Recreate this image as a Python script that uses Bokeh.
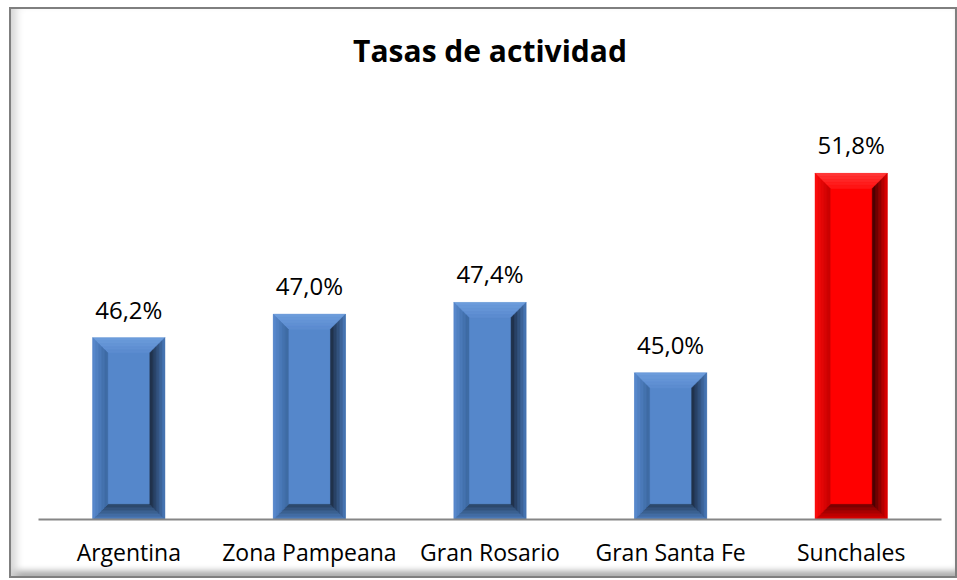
import numpy as np
from bokeh.plotting import figure
from bokeh.models import ColumnDataSource, LabelSet, Range1d, FixedTicker
from bokeh.core.properties import value
from bokeh.embed import file_html
from bokeh.resources import INLINE

# ---------------- data ----------------
categories = ["Argentina", "Zona Pampeana", "Gran Rosario", "Gran Santa Fe", "Sunchales"]
tasas = [46.2, 47.0, 47.4, 45.0, 51.8]
value_labels = ["46,2%", "47,0%", "47,4%", "45,0%", "51,8%"]
highlight = [False, False, False, False, True]
title_text = "Tasas de actividad"

Y_MIN, Y_MAX = 40.0, 55.0
FONT = "Open Sans"

# ---------------- layout ----------------
W, H = 948, 571          # outer size incl. 2px border
BORDER = 2
IW, IH = W - 2 * BORDER, H - 2 * BORDER
ML, MR, MT, MB = 27, 18, 70, 61
frame_w = IW - ML - MR
frame_h = IH - MT - MB
n = len(categories)
px_x = frame_w / n            # pixels per category unit
px_y = frame_h / (Y_MAX - Y_MIN)

p = figure(width=W, height=H, output_backend="svg", toolbar_location=None,
           x_range=Range1d(0, n), y_range=Range1d(Y_MIN, Y_MAX),
           min_border_left=ML, min_border_right=MR, min_border_top=MT,
           min_border_bottom=MB, tools="")
p.styles = {"border": "%dpx solid #7f7f7f" % BORDER,
            "margin-left": "9px", "margin-top": "7px",
            "box-shadow": "inset 10px 0 8px -5px #d4d4d4, inset 0 -9px 6px -4px #a8a8a8"}
p.border_fill_alpha = 0
p.background_fill_color = "white"
p.outline_line_color = None
p.grid.visible = False
p.yaxis.visible = False

p.title.text = title_text
p.title.align = "center"
p.title.text_font = FONT
p.title.text_font_size = "30px"
p.title.text_font_style = "bold"
p.title.text_color = "black"
p.title.standoff = 18

xs = np.arange(n) + 0.5
ax = p.xaxis[0]
ax.ticker = FixedTicker(ticks=list(xs))
ax.major_label_overrides = {float(x): c for x, c in zip(xs, categories)}
ax.axis_line_color = "#868686"
ax.axis_line_width = 2
ax.major_tick_line_color = None
ax.minor_tick_line_color = None
ax.major_label_text_font = FONT
ax.major_label_text_font_size = "23px"
ax.major_label_text_color = "black"
ax.major_label_standoff = 10

# ---------------- bars with bevel ----------------
BAR_W = 0.4
BEVEL_PX = 15
NB = 5
dx = BEVEL_PX / px_x
dy = BEVEL_PX / px_y

palettes = {
    False: dict(face="#5587cb",
                top=("#6e9edc", "#5a8acf"),
                left=("#5a8bd0", "#3b679f"),
                right=("#4a7bbd", "#1b2a40"),
                bottom=("#4c7dbe", "#2a4363")),
    True: dict(face="#ff0000",
               top=("#ff3a3a", "#ff1010"),
               left=("#ff0d0d", "#c40000"),
               right=("#e80000", "#3c0000"),
               bottom=("#e00000", "#700000")),
}


def mix(c0, c1, t):
    a = [int(c0[i:i + 2], 16) for i in (1, 3, 5)]
    b = [int(c1[i:i + 2], 16) for i in (1, 3, 5)]
    return "#%02x%02x%02x" % tuple(round(a[k] + (b[k] - a[k]) * t) for k in range(3))


faces = [palettes[h]["face"] for h in highlight]
src = ColumnDataSource(dict(x=xs, top=tasas, color=faces, lab=value_labels))
p.vbar(x="x", top="top", bottom=Y_MIN, width=BAR_W, fill_color="color",
       line_color=None, source=src)

pxs, pys, pcs = [], [], []
for x, v, h in zip(xs, tasas, highlight):
    pal = palettes[h]
    x0, x1 = x - BAR_W / 2, x + BAR_W / 2
    y0, y1 = Y_MIN, v
    for i in range(NB):
        a, b = i / NB, (i + 1) / NB
        t = (i + 0.5) / NB
        ax0, bx0 = a * dx, b * dx
        ay0, by0 = a * dy, b * dy
        # top
        pxs.append([x0 + ax0, x1 - ax0, x1 - bx0, x0 + bx0])
        pys.append([y1 - ay0, y1 - ay0, y1 - by0, y1 - by0])
        pcs.append(mix(*pal["top"], t))
        # bottom
        pxs.append([x0 + ax0, x1 - ax0, x1 - bx0, x0 + bx0])
        pys.append([y0 + ay0, y0 + ay0, y0 + by0, y0 + by0])
        pcs.append(mix(*pal["bottom"], t))
        # left
        pxs.append([x0 + ax0, x0 + bx0, x0 + bx0, x0 + ax0])
        pys.append([y0 + ay0, y0 + by0, y1 - by0, y1 - ay0])
        pcs.append(mix(*pal["left"], t))
        # right
        pxs.append([x1 - ax0, x1 - bx0, x1 - bx0, x1 - ax0])
        pys.append([y0 + ay0, y0 + by0, y1 - by0, y1 - ay0])
        pcs.append(mix(*pal["right"], t))

p.patches(xs=pxs, ys=pys, fill_color=pcs, line_color=pcs, line_width=0.5)

labels = LabelSet(x="x", y="top", text="lab", source=src, text_align="center",
                  text_baseline="alphabetic", y_offset=19,
                  text_font=value(FONT), text_font_size="24px", text_color="black")
p.add_layout(labels)

open("out.html", "w").write(file_html(p, INLINE))
